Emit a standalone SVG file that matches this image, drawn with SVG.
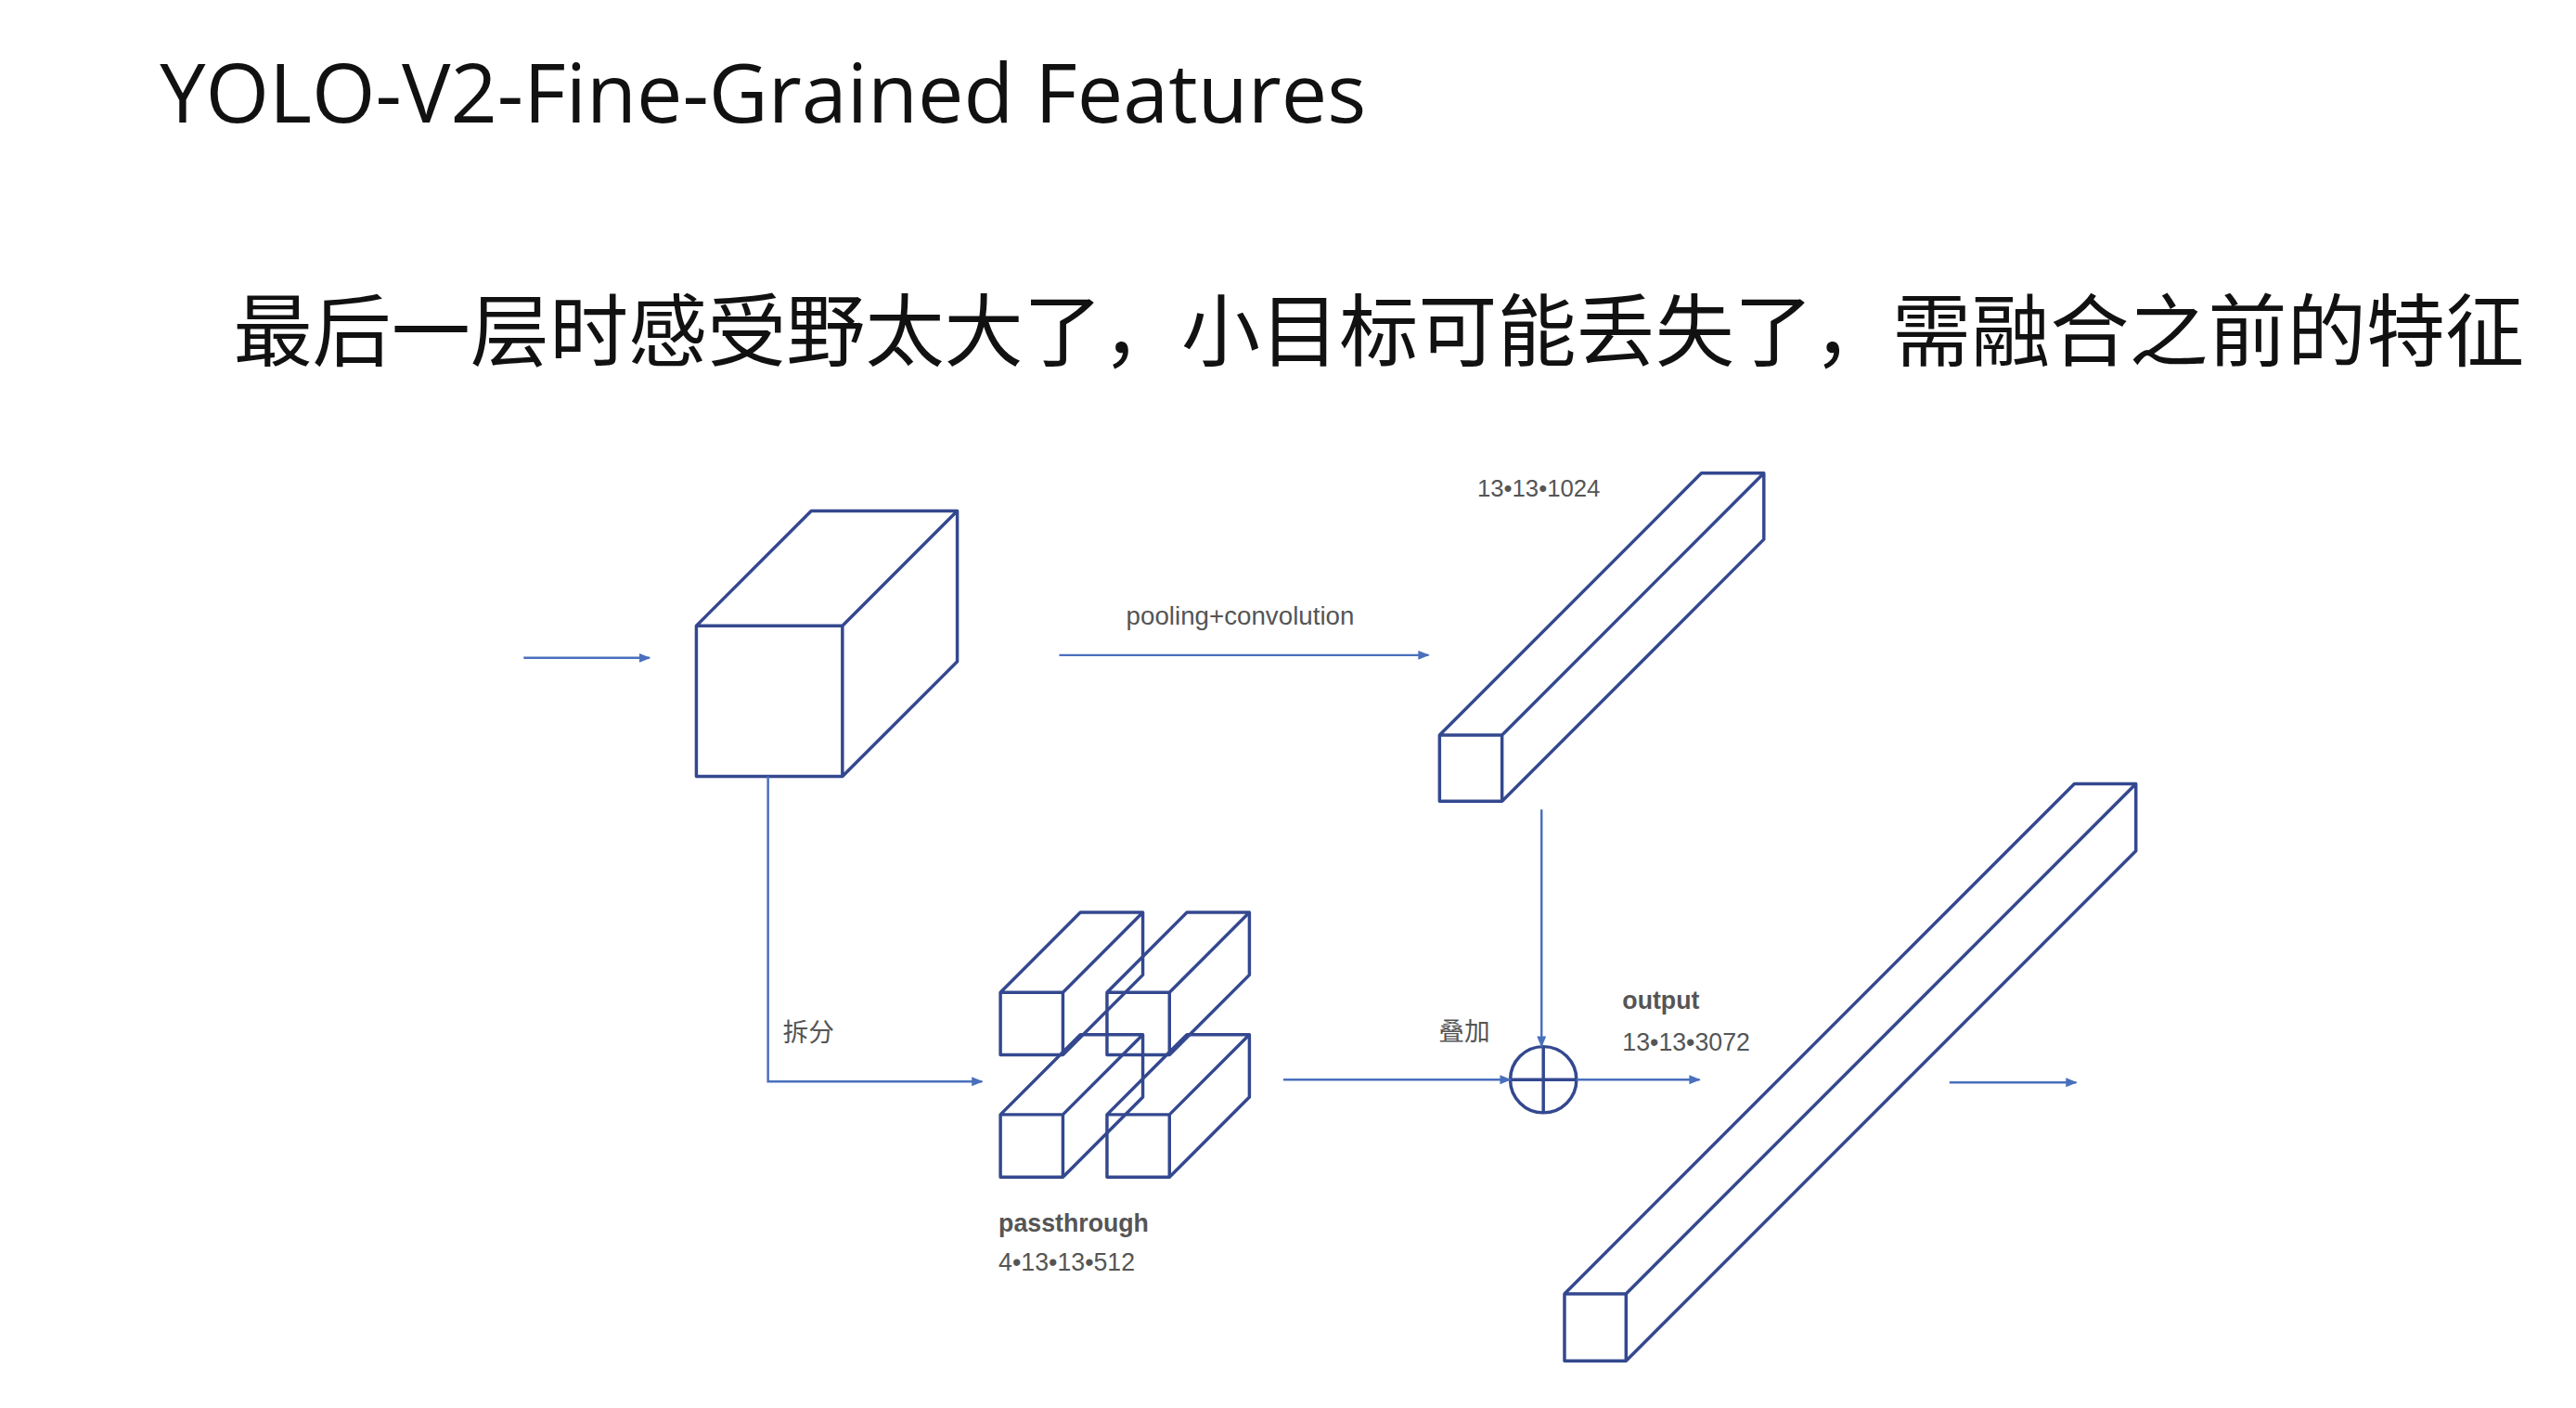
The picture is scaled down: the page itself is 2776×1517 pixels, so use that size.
<svg xmlns="http://www.w3.org/2000/svg" width="2776" height="1517" viewBox="0 0 2776 1517">
<style>
.b{fill:none;stroke:#34488f;stroke-width:3.5;stroke-linejoin:round}
.c{fill:none;stroke:#4a70bd;stroke-width:2.5}
.t{font-family:"Liberation Sans",Arial,"Noto Sans CJK SC",sans-serif;fill:#555}
</style>
<defs>
<marker id="a" viewBox="0 0 10 10" refX="9" refY="5" markerWidth="5" markerHeight="5" orient="auto"><path d="M0,1L10,5L0,9z" fill="#4a70bd"/></marker>
</defs>
<rect width="2776" height="1517" fill="#fff"/>
<g transform="scale(0.99)">
<text x="174" y="133" font-family="'Open Sans','Noto Sans',sans-serif" font-size="89" fill="#111">YOLO-V2-Fine-Grained Features</text>
<text x="254" y="392" font-family="'Noto Sans CJK SC',sans-serif" font-size="86" fill="#111">最后一层时感受野太大了，小目标可能丢失了，需融合之前的特征</text>
<g id="cube1"><path class="b" d="M758,681h159v164h-159z M758,681l125,-125h159l-125,125 M1042,556v164l-125,125"/></g>
<g id="bar1"><path class="b" d="M1567,800h68v72h-68z M1567,800l285,-285h68l-285,285 M1920,515v72l-285,285"/></g>
<g id="pass">
<path class="b" d="M1089,1080h68v68h-68z M1089,1080l87,-87h68l-87,87 M1244,993v68l-87,87"/>
<path class="b" d="M1205,1080h68v68h-68z M1205,1080l87,-87h68l-87,87 M1360,993v68l-87,87"/>
<path class="b" d="M1089,1213h68v68h-68z M1089,1213l87,-87h68l-87,87 M1244,1126v68l-87,87"/>
<path class="b" d="M1205,1213h68v68h-68z M1205,1213l87,-87h68l-87,87 M1360,1126v68l-87,87"/>
</g>
<g id="sum"><circle class="b" cx="1680" cy="1175" r="36"/><path class="b" d="M1644,1175h72M1680,1139v72"/></g>
<g id="bar2"><path class="b" d="M1703,1408h67v73h-67z M1703,1408l555,-555h67l-555,555 M2325,853v73l-555,555"/></g>
<g id="connectors">
<path class="c" d="M570,716H707" marker-end="url(#a)"/>
<path class="c" d="M1153,713H1555" marker-end="url(#a)"/>
<path class="c" d="M836,845V1177H1069" marker-end="url(#a)"/>
<path class="c" d="M1678,881V1139" marker-end="url(#a)"/>
<path class="c" d="M1397,1175H1644" marker-end="url(#a)"/>
<path class="c" d="M1716,1175H1850" marker-end="url(#a)"/>
<path class="c" d="M2122,1178H2260" marker-end="url(#a)"/>
</g>
<text class="t" x="1350" y="680" font-size="28" text-anchor="middle">pooling+convolution</text>
<text class="t" x="1608" y="540" font-size="26">13•13•1024</text>
<text class="t" x="852" y="1133" font-size="28">拆分</text>
<text class="t" x="1566" y="1132" font-size="28">叠加</text>
<text class="t" x="1087" y="1340" font-size="27" font-weight="bold" fill="#333">passthrough</text>
<text class="t" x="1087" y="1383" font-size="27">4•13•13•512</text>
<text class="t" x="1766" y="1098" font-size="27" font-weight="bold" fill="#333">output</text>
<text class="t" x="1766" y="1143" font-size="27">13•13•3072</text>
</g>
</svg>
